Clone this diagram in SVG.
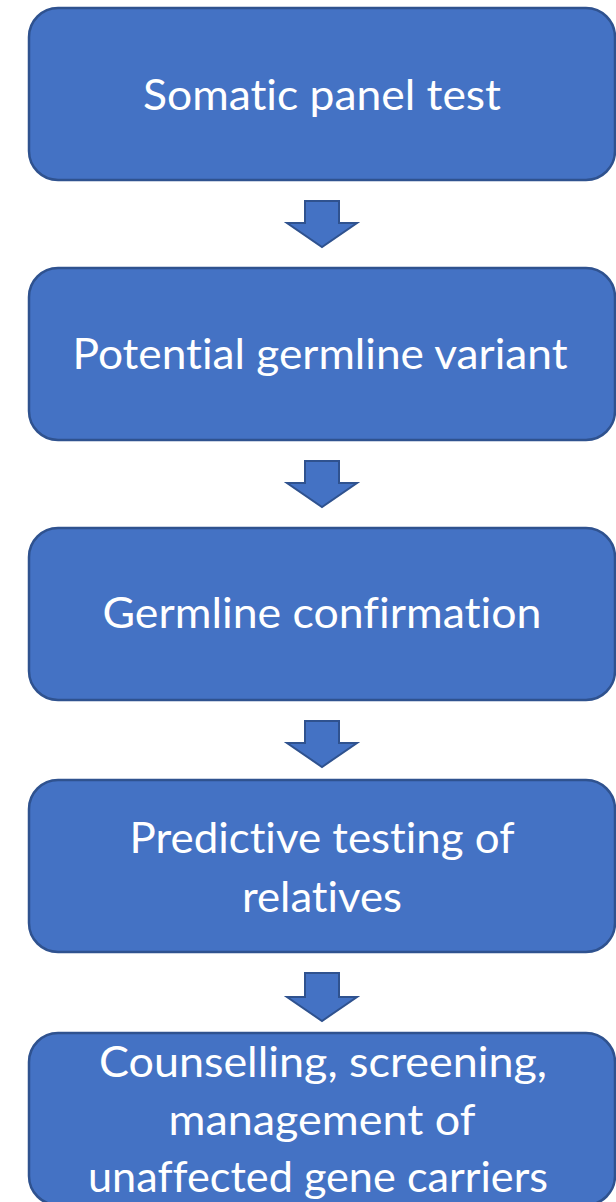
<svg xmlns="http://www.w3.org/2000/svg" width="616" height="1202" viewBox="0 0 616 1202">
<style>
.box{fill:#4472C4;stroke:#2F528F;stroke-width:2.5}
.arr{fill:#4472C4;stroke:#2F528F;stroke-width:2;stroke-linejoin:miter}
.t{font-family:Lato,"Liberation Sans",sans-serif;font-size:42px;fill:#FFFFFF;text-anchor:middle;font-variant-ligatures:none;font-feature-settings:"liga" 0,"clig" 0,"dlig" 0}
</style>
<rect width="616" height="1202" fill="#FFFFFF"/>
<g id="connectors">
<path class="arr" d="M305,201 H339 V223 H357 L322,247 L287,223 H305 Z"/>
<path class="arr" d="M305,461 H339 V483 H357 L322,507 L287,483 H305 Z"/>
<path class="arr" d="M305,721 H339 V743 H357 L322,767 L287,743 H305 Z"/>
<path class="arr" d="M305,973 H339 V997 H357 L322,1021 L287,997 H305 Z"/>
</g>
<g id="node1">
<rect class="box" x="29" y="8" width="586" height="172" rx="29"/>
<text class="t" x="322" y="110" textLength="358" lengthAdjust="spacingAndGlyphs">Somatic panel test</text>
</g>
<g id="node2">
<rect class="box" x="29" y="268" width="586" height="172" rx="29"/>
<text class="t" x="320" y="369" textLength="495" lengthAdjust="spacingAndGlyphs">Potential germline variant</text>
</g>
<g id="node3">
<rect class="box" x="29" y="528" width="586" height="172" rx="29"/>
<text class="t" x="322" y="628" textLength="439" lengthAdjust="spacingAndGlyphs">Germline confirmation</text>
</g>
<g id="node4">
<rect class="box" x="29" y="780" width="586" height="172" rx="29"/>
<text class="t" x="322" y="853" textLength="385" lengthAdjust="spacingAndGlyphs">Predictive testing of</text>
<text class="t" x="322" y="912" textLength="160" lengthAdjust="spacingAndGlyphs">relatives</text>
</g>
<g id="node5">
<rect class="box" x="29" y="1033" width="586" height="172" rx="29"/>
<text class="t" x="323" y="1077" textLength="448" lengthAdjust="spacingAndGlyphs">Counselling, screening,</text>
<text class="t" x="322" y="1135" textLength="307" lengthAdjust="spacingAndGlyphs">management of</text>
<text class="t" x="318" y="1192" textLength="460" lengthAdjust="spacingAndGlyphs">unaffected gene carriers</text>
</g>
</svg>
